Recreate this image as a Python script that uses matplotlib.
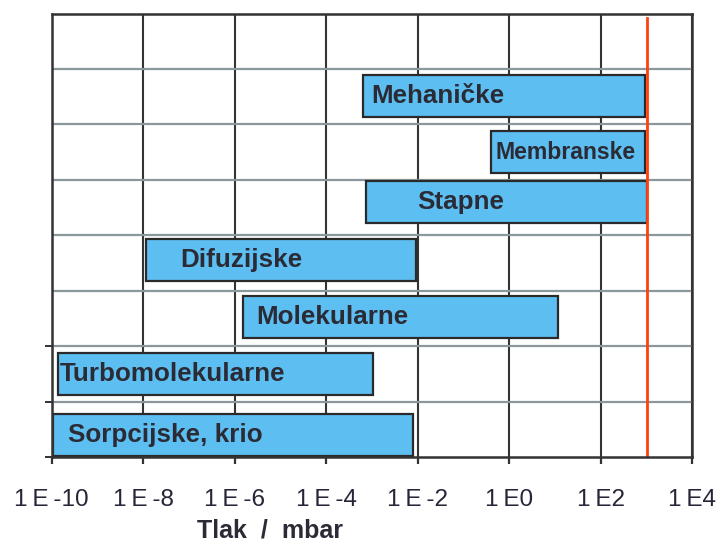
import matplotlib
matplotlib.use("Agg")
import matplotlib.pyplot as plt
from matplotlib.transforms import offset_copy

# ---- data ----
pumps = ["Mehaničke", "Membranske", "Stapne", "Difuzijske",
         "Molekularne", "Turbomolekularne", "Sorpcijske, krio"]
p_min = [6.2e-4, 0.40, 7.4e-4, 1.15e-8, 1.5e-6, 1.4e-10, 1.08e-10]   # mbar
p_max = [9.4e2, 9.4e2, 1.0e3, 9.1e-3, 11.5, 1.05e-3, 7.8e-3]          # mbar
atm_limit = 1.0e3
tick_vals = [1e-10, 1e-8, 1e-6, 1e-4, 1e-2, 1e0, 1e2, 1e4]
tick_labels = ["1\u2009E\u2009-10", "1\u2009E\u2009-8", "1\u2009E\u2009-6",
               "1\u2009E\u2009-4", "1\u2009E\u2009-2", "1\u2009E0", "1\u2009E2", "1\u2009E4"]
x_label = "Tlak  /  mbar"

# ---- layout / style ----
row_center = [6.51, 5.50, 4.60, 3.55, 2.53, 1.50, 0.40]
bar_h = 0.76
text_off_px = [9, 4, 51, 34, 13, 1, 15]
text_size = [18.7, 16.6, 18.7, 18.7, 18.7, 18.7, 18.7]
face = "#5DBEF2"
edge = "#2a2a2a"

plt.rcParams["font.family"] = ["Liberation Sans", "DejaVu Sans"]

fig = plt.figure(figsize=(7.21, 5.45), dpi=100)
ax = fig.add_axes([51.7/721, 1-457.3/545, (692.5-51.7)/721, (457.3-13.5)/545])
ax.set_xscale("log")
ax.set_xlim(1e-10, 1e4)
ax.set_ylim(0, 8)

# grid
for v in tick_vals:
    ax.axvline(v, color="#333333", lw=1.5, zorder=1)
for k in range(1, 8):
    ax.axhline(k, color="#8c979c", lw=1.6, zorder=1)

for i, name in enumerate(pumps):
    w = p_max[i] - p_min[i]
    ax.barh(row_center[i], w, left=p_min[i], height=bar_h, color=face,
            edgecolor=edge, linewidth=1.6, zorder=3)
    tr = offset_copy(ax.transData, fig=fig, x=text_off_px[i], y=0, units="dots")
    ax.text(p_min[i], row_center[i], name, transform=tr, ha="left", va="center",
            fontsize=text_size[i], fontweight="bold", color="#2b2b35", zorder=4)

ax.axvline(atm_limit, ymin=0, ymax=0.99, color="#FF4010", lw=2.0, zorder=5)

for s in ax.spines.values():
    s.set_color("#333333")
    s.set_linewidth(1.8)
    s.set_zorder(6)

ax.set_xticks(tick_vals)
ax.set_xticklabels(tick_labels)
ax.xaxis.set_minor_locator(matplotlib.ticker.NullLocator())
ax.tick_params(axis="x", direction="out", length=5, width=1.6, color="#333333",
               labelsize=17.5, labelcolor="#262638", pad=18)
ax.set_yticks([0, 1, 2])
ax.set_yticklabels([])
ax.tick_params(axis="y", direction="out", length=5, width=1.4, color="#333333")

fig.text(270/721, 1-531/545, x_label, ha="center", va="center",
         fontsize=18, fontweight="bold", color="#2b2b35")

fig.savefig("out.png", dpi=100)
